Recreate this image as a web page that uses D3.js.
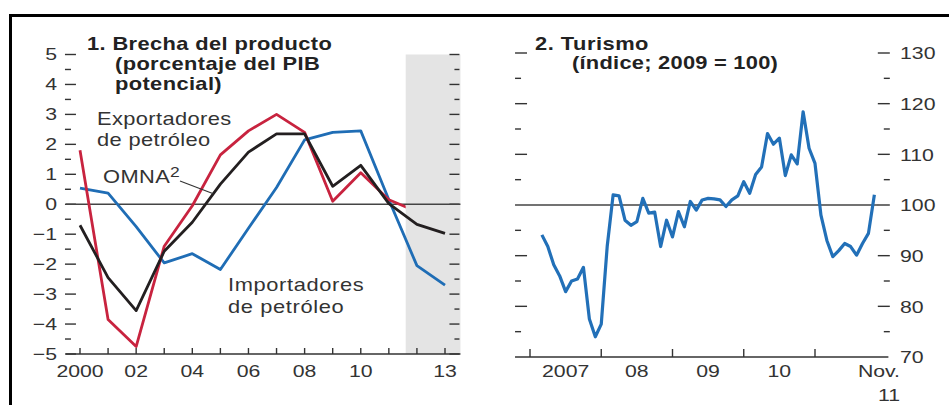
<!DOCTYPE html>
<html><head><meta charset="utf-8">
<script src="https://cdn.jsdelivr.net/npm/d3@7"></script>
<style>html,body{margin:0;padding:0;background:#fff;}svg{display:block;}</style>
</head><body>
<svg id="chart" width="949" height="405"></svg>
<script>
// ---------- DATA ----------
// Panel 1: output gap (% of potential GDP)
const gapYears      = [2000,2001,2002,2003,2004,2005,2006,2007,2008,2009,2010,2011,2012,2013];
const exportadores  = [1.8,-3.85,-4.75,-1.4,-0.05,1.65,2.45,3.0,2.4,0.1,1.05,0.15,-0.25]; // shown up to projection band
const importadores  = [0.54,0.37,-0.75,-1.96,-1.65,-2.18,-0.8,0.56,2.15,2.4,2.45,0.15,-2.05,-2.7];
const omna          = [-0.7,-2.45,-3.55,-1.57,-0.6,0.67,1.74,2.35,2.35,0.6,1.3,0.02,-0.67,-0.97];
const gapTickValues = [-5,-4,-3,-2,-1,0,1,2,3,4,5];
const gapYearTicks  = [2000,2001,2002,2003,2004,2005,2006,2007,2008,2009,2010,2011,2012,2013];
const gapYearLabels = [[2000,"2000"],[2002,"02"],[2004,"04"],[2006,"06"],[2008,"08"],[2010,"10"],[2013,"13"]];
const projectionFrom = 2011.6;

// Panel 2: tourism index (2009 = 100), monthly Mar 2007 – Nov 2011
const turismoStartYear = 2007, turismoStartMonth = 3;
const turismo = [
  94.1,91.8,88.2,86.0,82.9,85.0,85.4,87.7,77.5,74.0,
  76.5,91.8,102.0,101.8,97.0,96.0,96.7,101.3,98.4,98.6,91.8,97.0,
  93.7,98.7,95.7,100.7,99.0,101.0,101.3,101.2,101.0,99.7,101.0,101.8,
  104.6,102.3,106.0,107.5,114.1,112.0,113.2,105.8,109.9,108.1,118.4,111.2,
  108.2,98.0,93.0,89.8,91.0,92.4,91.8,90.1,92.4,94.4,102.0
];
const turTickValues = [70,80,90,100,110,120,130];
const turYearTicks  = [2007,2008,2009,2010,2011];
const turYearLabels = [[2007,"2007"],[2008,"08"],[2009,"09"],[2010,"10"]];

// ---------- SETUP ----------
const FONT = "'Liberation Sans', Arial, Helvetica, sans-serif";
const SX = 1.25;
const TXT = "#333";
const svg = d3.select("#chart");

function label(sel, x, y, str, o = {}) {
  const t = sel.append("text")
    .attr("transform", `translate(${x},${y}) scale(${SX},1)`)
    .attr("font-family", FONT)
    .attr("font-size", o.size || 17)
    .attr("font-weight", o.weight || "normal")
    .attr("fill", o.fill || TXT)
    .attr("text-anchor", o.anchor || "start")
    .attr("letter-spacing", o.ls || 0);
  if (o.dy) t.attr("dy", o.dy);
  t.text(str);
  return t;
}
function hline(sel, x1, x2, y, w, c) {
  sel.append("line").attr("x1", x1).attr("x2", x2).attr("y1", y).attr("y2", y)
    .attr("stroke", c || "#333").attr("stroke-width", w || 1.3);
}
function vline(sel, x, y1, y2, w, c) {
  sel.append("line").attr("x1", x).attr("x2", x).attr("y1", y1).attr("y2", y2)
    .attr("stroke", c || "#333").attr("stroke-width", w || 1.3);
}

// frame
hline(svg, 9, 949, 15.5, 3, "#000");
vline(svg, 10.5, 14, 405, 3, "#000");

// ---------- PANEL 1 ----------
const xg = d3.scaleLinear().domain([2000, 2013]).range([80, 445]);
const yg = d3.scaleLinear().domain([-5, 5]).range([354, 54.5]);
const gX0 = 1999.5, gX1 = 2013.55;
const g1 = svg.append("g");

g1.append("rect")
  .attr("x", xg(projectionFrom)).attr("y", yg(5))
  .attr("width", xg(gX1) - xg(projectionFrom)).attr("height", yg(-5) - yg(5))
  .attr("fill", "#e4e4e4");

// y ticks (left and right, inward)
d3.range(-10, 11).forEach(k => {
  const v = k / 2, major = k % 2 === 0, y = yg(v);
  hline(g1, xg(gX0) - 1, xg(gX0) + (major ? 10 : 5), y, 1.4);
  hline(g1, xg(gX1) - (major ? 11 : 6), xg(gX1) - 1, y, 1.4);
});
gapTickValues.forEach(v => {
  label(g1, 57, yg(v), v < 0 ? "\u2212" + Math.abs(v) : String(v), { anchor: "end", dy: "0.33em" });
});
// zero line and x axis
hline(g1, xg(gX0), xg(gX1), yg(0), 1.3, "#444");
hline(g1, xg(gX0), xg(gX1), yg(-5), 1.4, "#333");
gapYearTicks.forEach(t => vline(g1, xg(t), yg(-5), yg(-5) - 6, 1.4));
gapYearLabels.forEach(([t, s]) => label(g1, xg(t), 377, s, { anchor: "middle" }));

const lineG = d3.line().x(d => xg(d[0])).y(d => yg(d[1]));
g1.append("clipPath").attr("id", "clipExp").append("rect")
  .attr("x", 0).attr("y", 0).attr("width", xg(projectionFrom)).attr("height", 405);

const series = [
  { vals: importadores, color: "#1f6db5" },
  { vals: exportadores, color: "#c8233f", clip: true },
  { vals: omna, color: "#231f20" }
];
series.forEach(s => {
  const pts = s.vals.map((v, i) => [gapYears[i], v]);
  const p = g1.append("path").attr("d", lineG(pts)).attr("fill", "none")
    .attr("stroke", s.color).attr("stroke-width", 2.8).attr("stroke-linejoin", "round");
  if (s.clip) p.attr("clip-path", "url(#clipExp)");
});

// titles & annotations
label(g1, 87, 50, "1. Brecha del producto", { weight: "bold", size: 17.5, ls: 0.3, fill: "#222" });
label(g1, 115, 70, "(porcentaje del PIB", { weight: "bold", size: 17.5, ls: 0.3, fill: "#222" });
label(g1, 115, 90, "potencial)", { weight: "bold", size: 17.5, ls: 0.3, fill: "#222" });
label(g1, 97, 125, "Exportadores", { size: 17.5, ls: 0.3 });
label(g1, 97, 146, "de petróleo", { size: 17.5, ls: 0.3 });
const om = label(g1, 103, 183, "OMNA", { size: 17.5, ls: 0.3 });
om.append("tspan").attr("font-size", 14).attr("dy", -6).text("2");
// leader to OMNA line
const lt = 2004.75;
const lv = d3.scaleLinear().domain(gapYears).range(omna)(lt);
g1.append("line").attr("x1", 180).attr("y1", 181).attr("x2", xg(lt)).attr("y2", yg(lv))
  .attr("stroke", "#333").attr("stroke-width", 1.1);
label(g1, 228, 291, "Importadores", { size: 17.5, ls: 0.5 });
label(g1, 228, 313, "de petróleo", { size: 17.5, ls: 0.5 });

// ---------- PANEL 2 ----------
const xt = d3.scaleLinear().domain([2007, 2011]).range([530, 815]);
const yt = d3.scaleLinear().domain([70, 130]).range([357, 53]);
const tX0 = 2006.79, tRef1 = 2011.885, tX1 = 2012.03, tTick1 = 2012.05;
const g2 = svg.append("g");

d3.range(15, 27).forEach(k => {
  const v = k * 5, major = k % 2 === 0, y = yt(v);
  if (v !== 100) hline(g2, xt(tX0), xt(tX0) + (major ? 12 : 6), y, 1.4);
  hline(g2, xt(tTick1) - (major ? 12 : 6), xt(tTick1), y, 1.4);
});
turTickValues.forEach(v => label(g2, 900, yt(v), String(v), { dy: "0.38em" }));
hline(g2, xt(tX0), xt(tRef1), yt(100), 1.3, "#444");
hline(g2, xt(tX0), xt(tX1), yt(70), 1.4, "#333");
turYearTicks.forEach(t => vline(g2, xt(t), yt(70), yt(70) - 8, 1.4));
turYearLabels.forEach(([t, s]) => label(g2, xt(t + 0.5), 377, s, { anchor: "middle" }));
label(g2, 900, 377, "Nov.", { anchor: "end" });
label(g2, 900, 401, "11", { anchor: "end" });

const lineT = d3.line().x(d => xt(d[0])).y(d => yt(d[1]));
const tPts = turismo.map((v, i) => [turismoStartYear + (turismoStartMonth - 1 + i) / 12, v]);
g2.append("path").attr("d", lineT(tPts)).attr("fill", "none")
  .attr("stroke", "#2270b8").attr("stroke-width", 3.2).attr("stroke-linejoin", "round");

label(g2, 535, 50, "2. Turismo", { weight: "bold", size: 17.5, ls: 0.4, fill: "#222" });
label(g2, 572, 69, "(índice; 2009 = 100)", { weight: "bold", size: 17.5, ls: 0.2, fill: "#222" });
</script>
</body></html>
